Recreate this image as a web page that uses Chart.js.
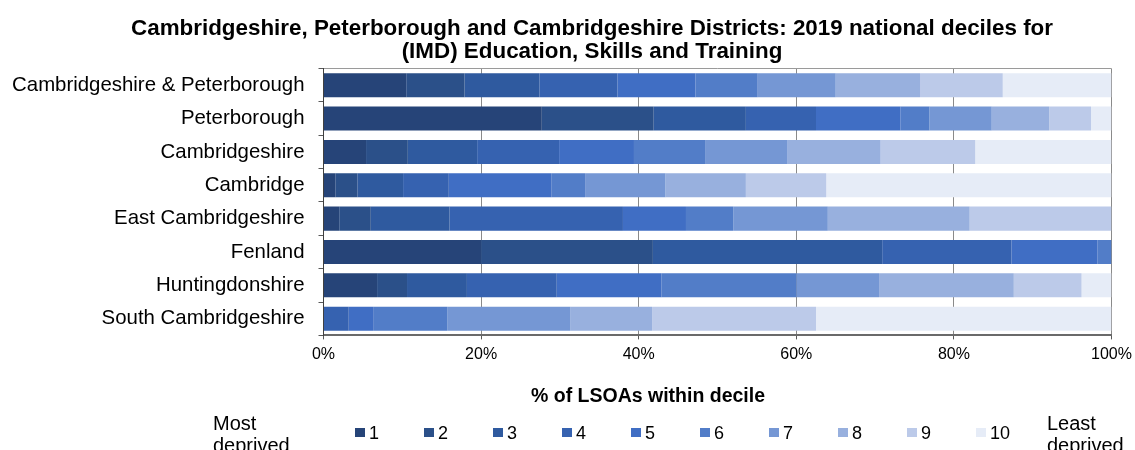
<!DOCTYPE html>
<html>
<head>
<meta charset="utf-8">
<title>IMD Education, Skills and Training deciles</title>
<script src="https://cdn.jsdelivr.net/npm/chart.js@4.4.1/dist/chart.umd.min.js"></script>
<style>
  html, body { margin: 0; padding: 0; background: #ffffff; }
  #wrap { width: 1135px; height: 450px; position: relative; }
</style>
</head>
<body>
<div id="wrap"><canvas id="chart" width="1135" height="450"></canvas></div>
<script>
// Areas, top to bottom
const areas = [
  'Cambridgeshire & Peterborough',
  'Peterborough',
  'Cambridgeshire',
  'Cambridge',
  'East Cambridgeshire',
  'Fenland',
  'Huntingdonshire',
  'South Cambridgeshire'
];

// % of LSOAs in each national decile (1 = most deprived), one value per area
const decile1  = [10.5, 27.7,  5.4,  1.5,  2.0, 20.0,  6.8,  0.0];
const decile2  = [ 7.4, 14.2,  5.3,  2.8,  4.0, 21.8,  3.8,  0.0];
const decile3  = [ 9.5, 11.7,  8.8,  5.8, 10.0, 29.1,  7.6,  0.0];
const decile4  = [ 9.9,  8.9, 10.4,  5.8, 22.0, 16.4, 11.4,  3.2];
const decile5  = [ 9.9, 10.7,  9.5, 13.0,  8.0, 10.9, 13.3,  3.1];
const decile6  = [ 7.9,  3.7,  9.1,  4.3,  6.0,  1.8, 17.1,  9.4];
const decile7  = [ 9.9,  7.9, 10.4, 10.2, 12.0,  0.0, 10.5, 15.6];
const decile8  = [10.7,  7.3, 11.8, 10.2, 18.0,  0.0, 17.1, 10.4];
const decile9  = [10.5,  5.3, 12.0, 10.2, 18.0,  0.0,  8.6, 20.8];
const decile10 = [13.8,  2.6, 17.3, 36.2,  0.0,  0.0,  3.8, 37.5];

const decileLabels = ['1', '2', '3', '4', '5', '6', '7', '8', '9', '10'];
const xTickValues = [0, 20, 40, 60, 80, 100];

const titleLines = [
  'Cambridgeshire, Peterborough and Cambridgeshire Districts: 2019 national deciles for',
  '(IMD) Education, Skills and Training'
];
const axisTitle = '% of LSOAs within decile';
const lowEndCaption = ['Most', 'deprived'];
const highEndCaption = ['Least', 'deprived'];

const decileColours = [
  '#264478', '#2b5089', '#2f5a9f', '#3662b0', '#406ec4',
  '#527dc8', '#7597d4', '#98b0de', '#bccae9', '#e6ecf7'
];

const series = [decile1, decile2, decile3, decile4, decile5,
                decile6, decile7, decile8, decile9, decile10];

const FONT = '"Liberation Sans", Arial, Helvetica, sans-serif';
Chart.defaults.font.family = FONT;
Chart.defaults.color = '#000000';

// Title, axis title and the decile key with its end captions
const captions = {
  id: 'captions',
  afterDraw(chart) {
    const ctx = chart.ctx;
    ctx.save();
    ctx.fillStyle = '#000000';
    ctx.textBaseline = 'alphabetic';

    ctx.textAlign = 'center';
    ctx.font = 'bold 22.4px ' + FONT;
    titleLines.forEach((line, i) => ctx.fillText(line, 592, 35 + i * 23));

    ctx.font = 'bold 19.5px ' + FONT;
    ctx.fillText(axisTitle, 648, 402);

    // key
    ctx.textAlign = 'left';
    ctx.font = '20px ' + FONT;
    lowEndCaption.forEach((t, i) => ctx.fillText(t, 213, 430 + i * 22));
    highEndCaption.forEach((t, i) => ctx.fillText(t, 1047, 430 + i * 22));

    ctx.font = '18px ' + FONT;
    chart.data.datasets.forEach((ds, i) => {
      const x = 355 + i * 69;
      ctx.fillStyle = ds.backgroundColor;
      ctx.fillRect(x, 428, 10, 9);
      ctx.fillStyle = '#000000';
      ctx.fillText(ds.label, x + 14, 438.5);
    });
    ctx.restore();
  }
};

new Chart(document.getElementById('chart'), {
  type: 'bar',
  data: {
    labels: areas,
    datasets: series.map((values, i) => ({
      label: decileLabels[i],
      data: values,
      backgroundColor: decileColours[i],
      borderWidth: 0,
      categoryPercentage: 0.72,
      barPercentage: 1.0
    }))
  },
  options: {
    indexAxis: 'y',
    responsive: false,
    animation: false,
    layout: { padding: { left: 0, right: 23.5, top: 68.5, bottom: 87 } },
    plugins: {
      legend: { display: false },
      title: { display: false },
      tooltip: { enabled: false }
    },
    scales: {
      x: {
        stacked: true,
        min: 0,
        max: 100,
        afterBuildTicks: scale => { scale.ticks = xTickValues.map(v => ({ value: v })); },
        afterFit: scale => {
          scale.height = 27.6;
          scale.paddingLeft = 0;
          scale.paddingRight = 0;
        },
        ticks: {
          callback: v => v + '%',
          color: '#000000',
          font: { size: 16 },
          padding: 6,
          maxRotation: 0,
          autoSkip: false
        },
        grid: {
          color: '#8a8a8a',
          tickColor: '#595959',
          tickLength: 4,
          lineWidth: 1
        },
        border: { display: true, color: '#6a6a6a', width: 2 }
      },
      y: {
        stacked: true,
        afterFit: scale => { scale.width = 323.5; },
        ticks: {
          color: '#000000',
          font: { size: 20.4 },
          padding: 14,
          autoSkip: false
        },
        grid: {
          offset: true,
          drawOnChartArea: true,
          color: ctx => (ctx.index === 0 ? '#9a9a9a' : 'rgba(0,0,0,0)'),
          tickColor: '#595959',
          tickLength: 5
        },
        border: { display: true, color: '#404040', width: 1 }
      }
    }
  },
  plugins: [captions]
});
</script>
</body>
</html>
